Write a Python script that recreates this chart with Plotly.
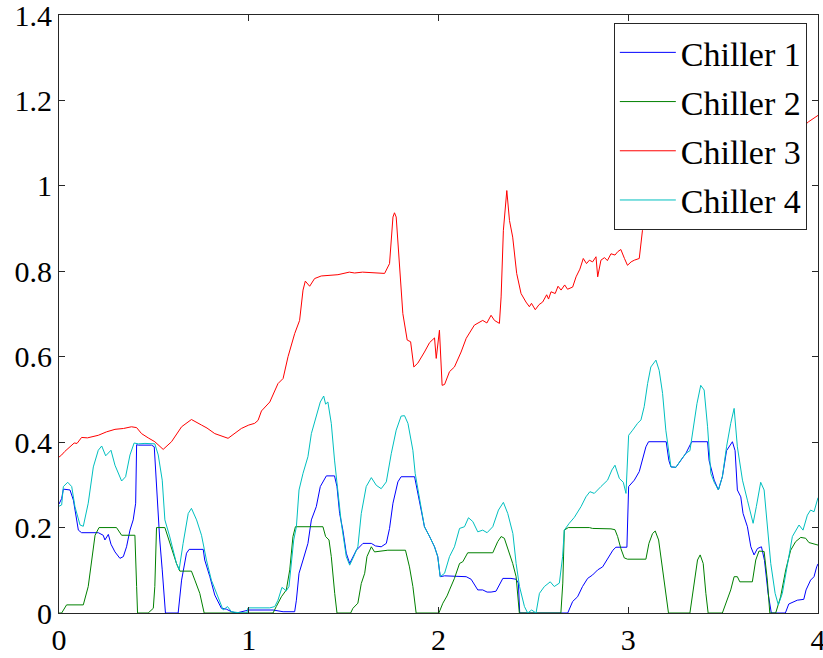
import plotly.graph_objects as go

# (time, load) pairs
chiller1 = [(0,0.255),(0.014,0.268),(0.023,0.290),(0.058,0.288),(0.076,0.264),(0.102,0.194),(0.119,0.188),(0.207,0.188),(0.233,0.182),(0.242,0.171),(0.260,0.184),(0.274,0.161),(0.295,0.143),(0.321,0.128),(0.339,0.132),(0.356,0.155),(0.374,0.194),(0.391,0.218),(0.404,0.257),(0.409,0.394),(0.418,0.393),(0.488,0.393),(0.502,0.389),(0.514,0.296),(0.531,0.171),(0.544,0.101),(0.561,0),(0.628,0),(0.646,0.077),(0.672,0.140),(0.686,0.149),(0.760,0.149),(0.768,0.124),(0.795,0.085),(0.821,0.042),(0.856,0.011),(0.882,0.009),(0.909,0.003),(0.935,0),(1.0,0.007),(1.128,0.007),(1.181,0.003),(1.242,0.003),(1.251,0.030),(1.265,0.093),(1.286,0.124),(1.312,0.163),(1.330,0.218),(1.356,0.249),(1.377,0.296),(1.409,0.321),(1.452,0.321),(1.465,0.296),(1.479,0.233),(1.496,0.194),(1.514,0.140),(1.532,0.116),(1.567,0.147),(1.602,0.163),(1.646,0.163),(1.668,0.157),(1.698,0.155),(1.725,0.163),(1.742,0.198),(1.760,0.257),(1.786,0.307),(1.803,0.319),(1.874,0.319),(1.900,0.264),(1.926,0.202),(1.953,0.179),(1.979,0.155),(1.996,0.132),(2.009,0.085),(2.032,0.087),(2.146,0.085),(2.172,0.079),(2.207,0.054),(2.233,0.054),(2.256,0.049),(2.277,0.049),(2.303,0.051),(2.339,0.081),(2.382,0.081),(2.409,0.079),(2.421,0.070),(2.428,0),(2.681,0),(2.707,0.027),(2.733,0.038),(2.759,0.062),(2.786,0.081),(2.812,0.089),(2.839,0.101),(2.865,0.108),(2.891,0.128),(2.919,0.147),(2.935,0.154),(2.993,0.154),(3.002,0.296),(3.032,0.311),(3.058,0.331),(3.075,0.357),(3.093,0.389),(3.107,0.401),(3.200,0.401),(3.214,0.357),(3.225,0.342),(3.251,0.341),(3.304,0.374),(3.330,0.397),(3.335,0.401),(3.418,0.401),(3.426,0.357),(3.453,0.311),(3.475,0.288),(3.496,0.319),(3.518,0.380),(3.549,0.401),(3.563,0.380),(3.575,0.288),(3.593,0.272),(3.605,0.233),(3.628,0.202),(3.646,0.155),(3.663,0.136),(3.681,0.151),(3.702,0.155),(3.718,0.123),(3.737,0.046),(3.754,0),(3.828,0),(3.846,0.021),(3.891,0.030),(3.925,0.032),(3.937,0.054),(3.961,0.077),(3.979,0.085),(3.993,0.108),(4.0,0.115)]

chiller2 = [(0,0),(0.014,0),(0.040,0.019),(0.128,0.019),(0.154,0.062),(0.172,0.124),(0.190,0.182),(0.211,0.200),(0.303,0.200),(0.330,0.182),(0.400,0.182),(0.409,0.062),(0.414,0),(0.470,0),(0.497,0.011),(0.505,0.062),(0.514,0.200),(0.558,0.200),(0.584,0.163),(0.619,0.116),(0.637,0.098),(0.698,0.098),(0.716,0.077),(0.742,0.046),(0.765,0),(1.128,0),(1.145,0.015),(1.172,0.038),(1.198,0.054),(1.216,0.101),(1.233,0.179),(1.246,0.202),(1.391,0.202),(1.405,0.179),(1.423,0.171),(1.435,0.132),(1.453,0.046),(1.465,0),(1.537,0),(1.549,0.011),(1.575,0.023),(1.593,0.069),(1.611,0.093),(1.623,0.132),(1.646,0.155),(1.663,0.143),(1.733,0.147),(1.826,0.147),(1.847,0.108),(1.865,0.062),(1.882,0),(2.002,0),(2.023,0.023),(2.045,0.040),(2.058,0.054),(2.084,0.081),(2.111,0.116),(2.128,0.120),(2.154,0.141),(2.286,0.141),(2.312,0.167),(2.330,0.179),(2.347,0.175),(2.374,0.139),(2.391,0.116),(2.409,0.085),(2.426,0),(2.645,0),(2.655,0.070),(2.663,0.194),(2.684,0.200),(2.795,0.200),(2.812,0.198),(2.909,0.197),(2.930,0.195),(2.944,0.179),(2.961,0.151),(2.979,0.129),(2.996,0.126),(3.093,0.126),(3.109,0.163),(3.128,0.186),(3.142,0.192),(3.160,0.171),(3.177,0.116),(3.198,0.038),(3.212,0),(3.325,0),(3.347,0.069),(3.365,0.124),(3.379,0.136),(3.395,0.116),(3.409,0.046),(3.421,0),(3.496,0),(3.514,0.021),(3.540,0.054),(3.558,0.085),(3.575,0.085),(3.588,0.073),(3.654,0.073),(3.672,0.124),(3.689,0.145),(3.716,0.144),(3.733,0.077),(3.746,0),(3.777,0),(3.803,0.038),(3.830,0.101),(3.856,0.147),(3.882,0.167),(3.909,0.177),(3.935,0.175),(3.952,0.165),(4.0,0.159)]

chiller3 = [(0,0.365),(0.014,0.370),(0.030,0.378),(0.058,0.389),(0.080,0.398),(0.095,0.397),(0.119,0.411),(0.150,0.410),(0.207,0.416),(0.250,0.424),(0.295,0.430),(0.340,0.432),(0.382,0.436),(0.409,0.434),(0.435,0.420),(0.470,0.410),(0.505,0.401),(0.549,0.383),(0.593,0.401),(0.646,0.436),(0.698,0.453),(0.751,0.440),(0.780,0.433),(0.821,0.420),(0.891,0.409),(0.961,0.432),(1.000,0.440),(1.031,0.444),(1.049,0.451),(1.067,0.473),(1.111,0.494),(1.154,0.537),(1.181,0.549),(1.207,0.600),(1.242,0.654),(1.268,0.685),(1.286,0.756),(1.298,0.777),(1.321,0.765),(1.347,0.783),(1.382,0.789),(1.470,0.792),(1.530,0.798),(1.558,0.796),(1.600,0.798),(1.716,0.795),(1.742,0.818),(1.760,0.927),(1.768,0.937),(1.777,0.927),(1.795,0.802),(1.812,0.701),(1.835,0.639),(1.853,0.635),(1.870,0.576),(1.891,0.585),(1.926,0.611),(1.953,0.633),(1.979,0.644),(1.988,0.596),(2.005,0.662),(2.019,0.533),(2.032,0.535),(2.058,0.565),(2.084,0.576),(2.119,0.611),(2.146,0.643),(2.189,0.674),(2.233,0.685),(2.255,0.679),(2.277,0.697),(2.295,0.685),(2.321,0.678),(2.330,0.740),(2.342,0.896),(2.360,0.989),(2.374,0.919),(2.391,0.880),(2.412,0.795),(2.435,0.748),(2.461,0.728),(2.479,0.717),(2.490,0.725),(2.510,0.710),(2.530,0.722),(2.549,0.728),(2.570,0.745),(2.580,0.735),(2.593,0.752),(2.615,0.748),(2.630,0.765),(2.646,0.756),(2.665,0.768),(2.680,0.758),(2.707,0.763),(2.725,0.787),(2.745,0.805),(2.763,0.830),(2.780,0.818),(2.795,0.826),(2.812,0.822),(2.830,0.834),(2.839,0.787),(2.856,0.826),(2.875,0.832),(2.890,0.825),(2.909,0.841),(2.930,0.838),(2.945,0.846),(2.961,0.851),(2.980,0.830),(2.996,0.814),(3.015,0.822),(3.032,0.826),(3.058,0.830),(3.075,0.896),(3.100,0.930),(3.300,0.980),(3.500,1.030),(3.700,1.080),(3.900,1.130),(3.950,1.150),(4.0,1.165)]

chiller4 = [(0,0.250),(0.014,0.253),(0.023,0.296),(0.046,0.306),(0.067,0.296),(0.084,0.249),(0.111,0.206),(0.128,0.203),(0.154,0.257),(0.181,0.342),(0.207,0.381),(0.225,0.391),(0.246,0.368),(0.274,0.381),(0.295,0.346),(0.330,0.309),(0.351,0.319),(0.374,0.370),(0.396,0.398),(0.418,0.396),(0.453,0.397),(0.505,0.396),(0.523,0.370),(0.544,0.311),(0.558,0.218),(0.584,0.178),(0.619,0.116),(0.633,0.101),(0.654,0.163),(0.681,0.233),(0.698,0.245),(0.725,0.218),(0.751,0.182),(0.777,0.124),(0.803,0.077),(0.839,0.038),(0.865,0.007),(0.888,0.015),(0.909,0.003),(0.961,0),(0.990,0),(0.996,0.012),(1.111,0.012),(1.137,0.015),(1.154,0.030),(1.175,0.060),(1.198,0.052),(1.212,0.062),(1.224,0.108),(1.237,0.171),(1.251,0.202),(1.265,0.288),(1.286,0.327),(1.312,0.366),(1.330,0.420),(1.356,0.459),(1.377,0.494),(1.395,0.508),(1.405,0.489),(1.417,0.494),(1.435,0.444),(1.452,0.358),(1.470,0.288),(1.488,0.210),(1.514,0.132),(1.532,0.112),(1.553,0.132),(1.575,0.155),(1.593,0.233),(1.619,0.296),(1.646,0.317),(1.672,0.299),(1.698,0.291),(1.725,0.307),(1.751,0.373),(1.777,0.428),(1.803,0.461),(1.821,0.462),(1.839,0.444),(1.865,0.381),(1.877,0.327),(1.900,0.264),(1.926,0.202),(1.953,0.179),(1.979,0.155),(1.996,0.132),(2.009,0.085),(2.032,0.093),(2.058,0.132),(2.084,0.155),(2.111,0.198),(2.137,0.202),(2.158,0.223),(2.181,0.214),(2.207,0.190),(2.233,0.194),(2.256,0.188),(2.286,0.202),(2.316,0.241),(2.342,0.259),(2.365,0.233),(2.392,0.186),(2.409,0.116),(2.427,0.062),(2.453,0.015),(2.470,0),(2.491,0.007),(2.514,0),(2.532,0.046),(2.558,0.062),(2.589,0.073),(2.610,0.062),(2.637,0.070),(2.654,0.132),(2.663,0.194),(2.689,0.210),(2.716,0.224),(2.751,0.249),(2.777,0.272),(2.798,0.284),(2.821,0.280),(2.856,0.296),(2.891,0.311),(2.914,0.335),(2.930,0.346),(2.953,0.315),(2.974,0.306),(2.988,0.280),(3.002,0.416),(3.023,0.428),(3.049,0.444),(3.067,0.452),(3.084,0.483),(3.102,0.537),(3.119,0.576),(3.146,0.592),(3.163,0.568),(3.181,0.514),(3.198,0.428),(3.225,0.342),(3.251,0.341),(3.277,0.358),(3.304,0.374),(3.325,0.380),(3.342,0.428),(3.362,0.490),(3.382,0.533),(3.400,0.522),(3.418,0.436),(3.435,0.327),(3.453,0.306),(3.475,0.288),(3.496,0.319),(3.518,0.389),(3.540,0.444),(3.558,0.479),(3.575,0.389),(3.602,0.311),(3.628,0.264),(3.658,0.210),(3.675,0.249),(3.698,0.306),(3.716,0.288),(3.733,0.202),(3.751,0.116),(3.774,0.046),(3.791,0.019),(3.812,0.046),(3.839,0.116),(3.865,0.179),(3.900,0.206),(3.921,0.194),(3.944,0.229),(3.961,0.241),(3.979,0.237),(3.993,0.264),(4.0,0.270)]

series_names = ["Chiller 1", "Chiller 2", "Chiller 3", "Chiller 4"]
series_colors = ["#0000ff", "#008000", "#ff0000", "#00bfbf"]
x_ticks = [0, 1, 2, 3, 4]
x_tick_labels = ["0", "1", "2", "3", "4"]
y_ticks = [0, 0.2, 0.4, 0.6, 0.8, 1.0, 1.2, 1.4]
y_tick_labels = ["0", "0.2", "0.4", "0.6", "0.8", "1", "1.2", "1.4"]

FONT = "Liberation Serif, DejaVu Serif, serif"

fig = go.Figure()
for i, (name, color, data) in enumerate(zip(series_names, series_colors,
                                             [chiller1, chiller2, chiller3, chiller4])):
    xs = [p[0] for p in data]
    ys = [p[1] for p in data]
    fig.add_trace(go.Scatter(x=xs, y=ys, mode="lines", name=name,
                             legendgroup=f"g{i}",
                             line=dict(color=color, width=1)))

axis_common = dict(showline=True, linecolor="#262626", linewidth=1, mirror="ticks",
                   ticks="inside", ticklen=6, tickcolor="#262626", showgrid=False,
                   zeroline=False, automargin=False, ticklabeloverflow="allow",
                   tickfont=dict(family=FONT, size=30, color="black"))

fig.update_xaxes(range=[0, 4], tickvals=x_ticks, ticktext=x_tick_labels, **axis_common)
fig.update_yaxes(range=[0, 1.4], tickvals=y_ticks, ticktext=y_tick_labels, **axis_common)

fig.update_layout(
    width=823, height=658,
    margin=dict(l=59, r=5, t=15, b=45),
    paper_bgcolor="white", plot_bgcolor="white",
    font=dict(family=FONT, size=30, color="black"),
    showlegend=True,
    legend=dict(x=0.731, y=0.987, xanchor="left", yanchor="top",
                bgcolor="white", bordercolor="#262626", borderwidth=1,
                font=dict(family=FONT, size=34, color="black"),
                traceorder="grouped", tracegroupgap=2, itemwidth=56),
)

fig.write_html("out.html", config={"displayModeBar": False},
               post_script="document.body.style.margin='0';document.body.style.padding='0';")
